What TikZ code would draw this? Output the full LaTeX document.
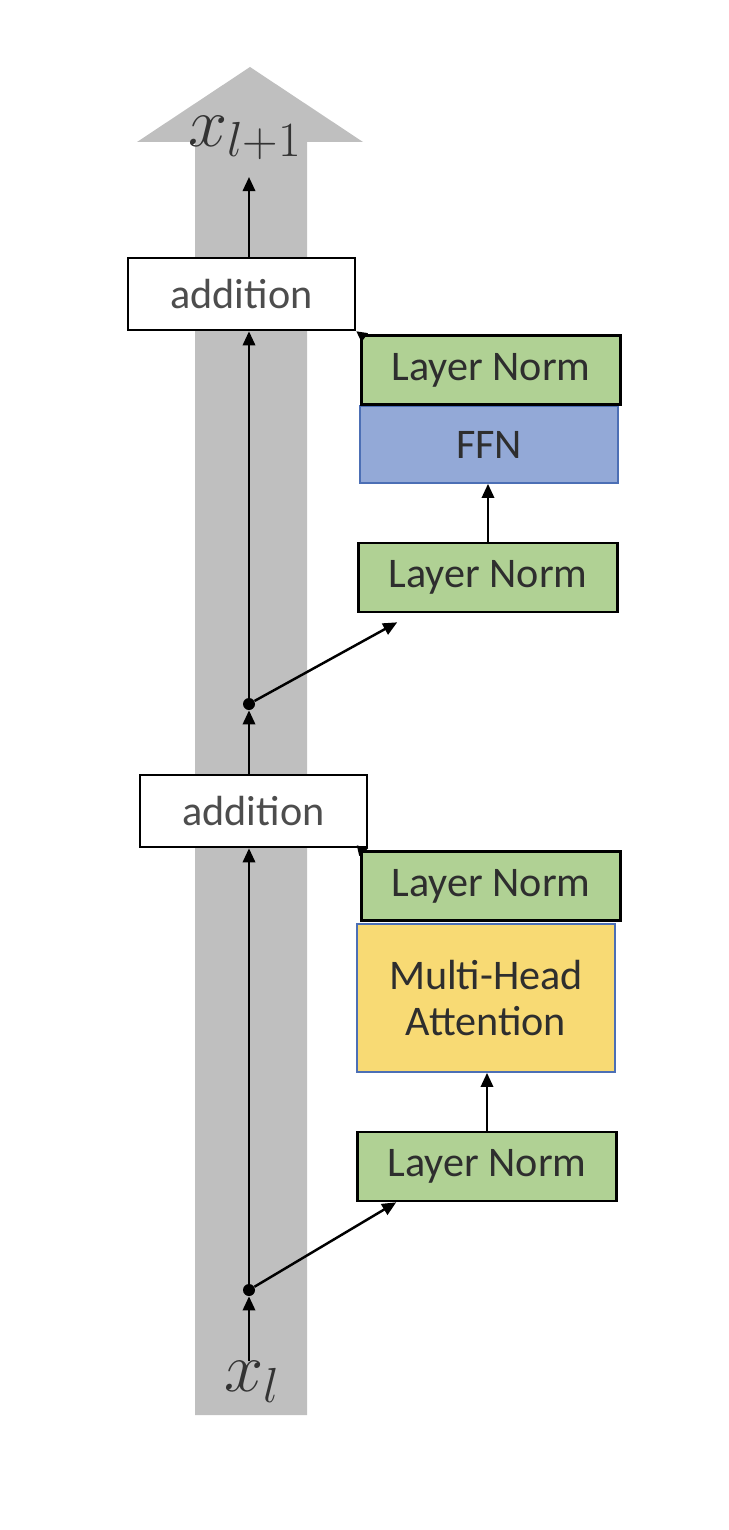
\RequirePackage{fix-cm}
\documentclass[tikz,border=0pt]{standalone}
\usepackage{fontspec}
\setmainfont{Carlito}
\usetikzlibrary{arrows.meta, positioning}

\definecolor{bandgray}{HTML}{BFBFBF}
\definecolor{normgreen}{HTML}{B0D194}
\definecolor{ffnblue}{HTML}{93A9D7}
\definecolor{attnyellow}{HTML}{F8DA74}
\definecolor{rimblue}{HTML}{4C6FB5}
\definecolor{inkgray}{HTML}{2E2E2E}

\begin{document}
\begin{tikzpicture}[x=0.02cm, y=-0.02cm, on grid, >={Triangle[length=8pt,width=7pt]},
      every node/.style={font=\fontsize{24}{28}\selectfont, text=inkgray, inner sep=0pt},
      flow/.style={->, line width=1.4pt},
      addbox/.style={draw, line width=1.5pt, fill=white, minimum width=4.54cm, minimum height=1.44cm, text=inkgray!85},
      normbox/.style={draw, line width=1.5pt, fill=normgreen, minimum width=5.18cm, minimum height=1.38cm},
      subbox/.style={draw=rimblue, line width=1pt, minimum width=5.16cm},
      junction/.style={circle, fill=black, minimum size=0.24cm},
      signal/.style={font=\fontsize{40}{44}\selectfont, text=black!80}]
      \useasboundingbox (0,0) rectangle (728,1530);
      % residual stream
      \fill[bandgray] (195,1415) -- (195,142) -- (137,142) -- (250,67) -- (363,142)
        -- (307,142) -- (307,1415) -- cycle;

      \node[signal] (xin) at (252,1382) {$x_l$};
      \node[signal] (xout) at (245,138) {$x_{l+1}$};
      \coordinate (top) at (249,177);
      \node[junction] (dot1) at (249,1290) {};
      \node[junction] (dot2) at (249,704) {};

      % attention block
      \node[addbox] (add1) at (253.5,811) {addition};
      \node[normbox] (ln1) at (487,1166.5) {Layer Norm};
      \node[subbox, fill=attnyellow, minimum height=2.96cm, align=center] (mha) at (486,998) {Multi-Head\\[-2pt]Attention};
      \node[normbox] (ln2) [above=2.24cm of mha, xshift=0.1cm] {Layer Norm};

      % feed-forward block
      \node[addbox] (add2) at (241.5,294) {addition};
      \node[normbox] (ln3) at (488,577.5) {Layer Norm};
      \node[subbox, fill=ffnblue, minimum height=1.54cm] (ffn) at (489,444.5) {FFN};
      \node[normbox] (ln4) [above=1.49cm of ffn, xshift=0.04cm] {Layer Norm};

      \draw[flow] (dot1 |- xin.north) -- (dot1);
      \draw[flow] (dot1) -- (dot1 |- add1.south);
      \draw[flow] (dot1) -- ([xshift=0.8cm]ln1.south west);
      \draw[flow] (ln1.north) -- (ln1.north |- mha.south);
      \draw[->, >={Triangle[length=6pt,width=6pt]}, line width=1pt] (ln2.north west) -- (add1.south east);
      \draw[flow] (dot2 |- add1.north) -- (dot2);
      \draw[flow] (dot2) -- ([xshift=0.8cm, yshift=-0.18cm]ln3.south west);
      \draw[flow] (ln3.north) -- (ln3.north |- ffn.south);
      \draw[->, >={Triangle[length=6pt,width=6pt]}, line width=1pt] (ln4.north west) -- (add2.south east);
      \draw[flow] (dot2) -- (dot2 |- add2.south);
      \draw[flow] (dot2 |- add2.north) -- (top);
    \end{tikzpicture}
\end{document}
